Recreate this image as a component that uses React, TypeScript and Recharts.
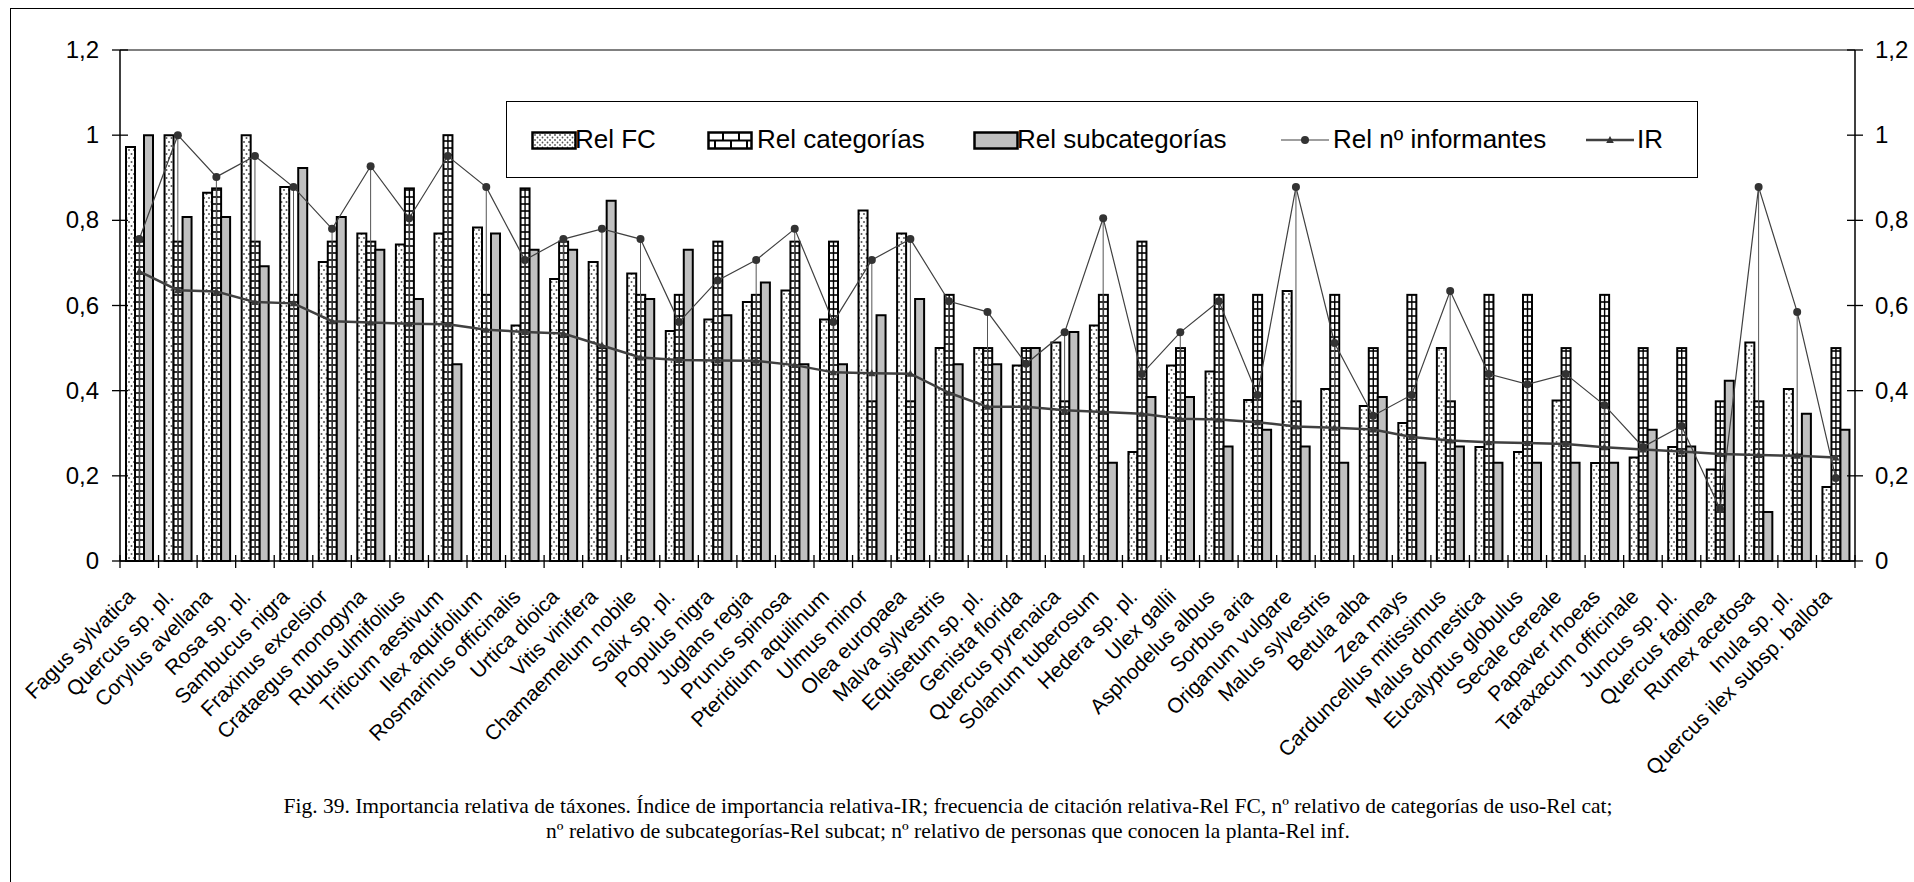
import React from 'react';
import { ComposedChart, Bar, Line, XAxis, YAxis, ErrorBar, Legend, ReferenceLine } from 'recharts';

const taxa = [
  'Fagus sylvatica', 'Quercus sp. pl.', 'Corylus avellana', 'Rosa sp. pl.', 'Sambucus nigra',
  'Fraxinus excelsior', 'Crataegus monogyna', 'Rubus ulmifolius', 'Triticum aestivum', 'Ilex aquifolium',
  'Rosmarinus officinalis', 'Urtica dioica', 'Vitis vinifera', 'Chamaemelum nobile', 'Salix sp. pl.',
  'Populus nigra', 'Juglans regia', 'Prunus spinosa', 'Pteridium aquilinum', 'Ulmus minor',
  'Olea europaea', 'Malva sylvestris', 'Equisetum sp. pl.', 'Genista florida', 'Quercus pyrenaica',
  'Solanum tuberosum', 'Hedera sp. pl.', 'Ulex gallii', 'Asphodelus albus', 'Sorbus aria',
  'Origanum vulgare', 'Malus sylvestris', 'Betula alba', 'Zea mays', 'Carduncellus mitissimus',
  'Malus domestica', 'Eucalyptus globulus', 'Secale cereale', 'Papaver rhoeas', 'Taraxacum officinale',
  'Juncus sp. pl.', 'Quercus faginea', 'Rumex acetosa', 'Inula sp. pl.', 'Quercus ilex subsp. ballota',
];

const relFC = [
  0.972, 1.0, 0.865, 1.0, 0.878, 0.702, 0.769, 0.743, 0.769, 0.783,
  0.553, 0.662, 0.702, 0.675, 0.54, 0.567, 0.608, 0.635, 0.567, 0.823,
  0.769, 0.5, 0.5, 0.459, 0.513, 0.553, 0.256, 0.459, 0.445, 0.378,
  0.634, 0.404, 0.364, 0.324, 0.5, 0.268, 0.256, 0.377, 0.23, 0.243,
  0.268, 0.215, 0.513, 0.404, 0.174,
];

const relCat = [
  0.75, 0.75, 0.875, 0.75, 0.625, 0.75, 0.75, 0.875, 1.0, 0.625,
  0.875, 0.75, 0.5, 0.625, 0.625, 0.75, 0.625, 0.75, 0.75, 0.375,
  0.375, 0.625, 0.5, 0.5, 0.375, 0.625, 0.75, 0.5, 0.625, 0.625,
  0.375, 0.625, 0.5, 0.625, 0.375, 0.625, 0.625, 0.5, 0.625, 0.5,
  0.5, 0.375, 0.375, 0.25, 0.5,
];

const relSub = [
  1.0, 0.808, 0.808, 0.692, 0.923, 0.808, 0.731, 0.615, 0.462, 0.769,
  0.731, 0.731, 0.846, 0.615, 0.731, 0.577, 0.654, 0.462, 0.462, 0.577,
  0.615, 0.462, 0.462, 0.5, 0.538, 0.231, 0.385, 0.385, 0.269, 0.308,
  0.269, 0.231, 0.385, 0.231, 0.269, 0.231, 0.231, 0.231, 0.231, 0.308,
  0.269, 0.423, 0.115, 0.346, 0.308,
];

const relInf = [
  0.756, 1.0, 0.902, 0.951, 0.878, 0.78, 0.927, 0.805, 0.951, 0.878,
  0.707, 0.756, 0.78, 0.756, 0.561, 0.659, 0.707, 0.78, 0.561, 0.707,
  0.756, 0.61, 0.585, 0.463, 0.537, 0.805, 0.439, 0.537, 0.61, 0.39,
  0.878, 0.512, 0.341, 0.39, 0.634, 0.439, 0.415, 0.439, 0.366, 0.268,
  0.317, 0.122, 0.878, 0.585, 0.195,
];

const irValues = [
  0.68, 0.636, 0.633, 0.608, 0.605, 0.563, 0.56, 0.557, 0.556, 0.543,
  0.538, 0.534, 0.506, 0.478, 0.472, 0.471, 0.47, 0.46, 0.443, 0.441,
  0.44, 0.395, 0.362, 0.362, 0.354, 0.35, 0.346, 0.334, 0.332, 0.326,
  0.316, 0.313, 0.309, 0.291, 0.283, 0.279, 0.277, 0.275, 0.267, 0.262,
  0.257, 0.251, 0.249, 0.247, 0.243,
];

const yTicks = [0, 0.2, 0.4, 0.6, 0.8, 1, 1.2];

const captionLines = [
  'Fig. 39. Importancia relativa de táxones. Índice de importancia relativa-IR; frecuencia de citación relativa-Rel FC, nº relativo de categorías de uso-Rel cat;',
  'nº relativo de subcategorías-Rel subcat; nº relativo de personas que conocen la planta-Rel inf.',
];

const data = taxa.map((name, i) => ({
  name,
  fc: relFC[i],
  cat: relCat[i],
  sub: relSub[i],
  inf: relInf[i],
  ir: irValues[i],
  drop: [relInf[i], 0],
}));

const SANS = '"Liberation Sans", Arial, sans-serif';
const SERIF = '"Liberation Serif", "Times New Roman", serif';

const fmt = (v: number) => String(v).replace('.', ',');

// columna de "Rel categorías": escalera blanca con travesaños negros
const LadderBar = (props: any) => {
  const { x, y, width, height } = props;
  if (!height || height <= 0) return null;
  const rungs = [];
  for (let yy = y + height - 7; yy > y + 1; yy -= 7) {
    rungs.push(<line key={yy} x1={x} x2={x + width} y1={yy} y2={yy} stroke="#000" strokeWidth={1.6} />);
  }
  return (
    <g>
      <rect x={x} y={y} width={width} height={height} fill="#fff" />
      {rungs}
      <line x1={x + width / 2} x2={x + width / 2} y1={y} y2={y + height} stroke="#000" strokeWidth={1.4} />
      <rect x={x} y={y} width={width} height={height} fill="none" stroke="#000" strokeWidth={2} />
    </g>
  );
};

const TriangleDot = (props: any) => {
  const { cx, cy } = props;
  if (cx == null || cy == null) return null;
  return <path d={`M${cx},${cy - 4} L${cx + 3.8},${cy + 3} L${cx - 3.8},${cy + 3} Z`} fill="#3a3a3a" />;
};

const TaxonTick = (props: any) => {
  const { x, y, payload, index } = props;
  const half = payload && payload.offset ? payload.offset : 0;
  const tx = x - 3;
  const ty = y + 37;
  return (
    <g>
      <line x1={x - half} x2={x - half} y1={y - 6} y2={y + 7} stroke="#000" strokeWidth={1.3} />
      {index === taxa.length - 1 && (
        <line x1={x + half} x2={x + half} y1={y - 6} y2={y + 7} stroke="#000" strokeWidth={1.3} />
      )}
      <text x={tx} y={ty} transform={`rotate(-45 ${tx} ${ty})`} textAnchor="end" fontSize={21} fontFamily={SANS} fill="#000">
        {payload.value}
      </text>
    </g>
  );
};

const LeftTick = (props: any) => {
  const { x, y, payload } = props;
  return (
    <g>
      <line x1={x - 8} x2={x + 8} y1={y} y2={y} stroke="#000" strokeWidth={1.3} />
      <text x={x - 21} y={y + 8} textAnchor="end" fontSize={24} fontFamily={SANS} fill="#000">{fmt(payload.value)}</text>
    </g>
  );
};

const RightTick = (props: any) => {
  const { x, y, payload } = props;
  return (
    <g>
      <line x1={x - 8} x2={x + 8} y1={y} y2={y} stroke="#000" strokeWidth={1.3} />
      <text x={x + 20} y={y + 8} textAnchor="start" fontSize={24} fontFamily={SANS} fill="#000">{fmt(payload.value)}</text>
    </g>
  );
};

const legendItems = [
  { label: 'Rel FC', kind: 'fc', left: 24, textLeft: 68 },
  { label: 'Rel categorías', kind: 'cat', left: 200, textLeft: 250 },
  { label: 'Rel subcategorías', kind: 'sub', left: 466, textLeft: 510 },
  { label: 'Rel nº informantes', kind: 'inf', left: 774, textLeft: 826 },
  { label: 'IR', kind: 'ir', left: 1079, textLeft: 1130 },
];

const Swatch = ({ kind }: { kind: string }) => {
  if (kind === 'inf' || kind === 'ir') {
    return (
      <svg width={48} height={18}>
        <line x1={0} x2={48} y1={9} y2={9} stroke="#404040" strokeWidth={kind === 'ir' ? 2.5 : 1.2} />
        {kind === 'inf'
          ? <circle cx={24} cy={9} r={4} fill="#333" />
          : <path d="M24,5 L27.8,12 L20.2,12 Z" fill="#333" />}
      </svg>
    );
  }
  return (
    <svg width={46} height={19}>
      <defs>
        <pattern id="lgDots" width={5} height={5} patternUnits="userSpaceOnUse">
          <rect width={5} height={5} fill="#fff" />
          <circle cx={1.5} cy={1.5} r={0.9} fill="#555" />
          <circle cx={4} cy={4} r={0.9} fill="#555" />
        </pattern>
      </defs>
      {kind === 'fc' && <rect x={1.5} y={1.5} width={43} height={16} fill="url(#lgDots)" stroke="#000" strokeWidth={2.5} />}
      {kind === 'sub' && <rect x={1.5} y={1.5} width={43} height={16} fill="#c0c0c0" stroke="#000" strokeWidth={2.5} />}
      {kind === 'cat' && (
        <g stroke="#000" strokeWidth={2}>
          <rect x={1.5} y={1.5} width={43} height={16} fill="#fff" strokeWidth={2.5} />
          <line x1={1.5} x2={44.5} y1={9.5} y2={9.5} />
          <line x1={16} x2={16} y1={1.5} y2={9.5} />
          <line x1={32} x2={32} y1={1.5} y2={9.5} />
          <line x1={8} x2={8} y1={9.5} y2={17.5} />
          <line x1={24} x2={24} y1={9.5} y2={17.5} />
          <line x1={40} x2={40} y1={9.5} y2={17.5} />
        </g>
      )}
    </svg>
  );
};

const LegendBox = () => (
  <div style={{ position: 'relative', width: 1192, height: 77, border: '1.5px solid #000', background: '#fff', boxSizing: 'border-box' }}>
    {legendItems.map((it) => (
      <React.Fragment key={it.label}>
        <div style={{ position: 'absolute', left: it.left, top: 29 }}>
          <Swatch kind={it.kind} />
        </div>
        <div style={{ position: 'absolute', left: it.textLeft, top: 22, fontFamily: SANS, fontSize: 26, lineHeight: '30px', color: '#000', whiteSpace: 'nowrap' }}>
          {it.label}
        </div>
      </React.Fragment>
    ))}
  </div>
);

export default function App() {
  return (
    <div style={{ position: 'absolute', left: 0, top: 0, width: 1914, height: 882, overflow: 'hidden', background: '#fff' }}>
      <div style={{ position: 'absolute', left: 10, top: 8, width: 1920, height: 900, border: '1.5px solid #000' }} />
      <div style={{ position: 'absolute', left: 0, top: 0 }}>
        <ComposedChart
          width={1914}
          height={882}
          data={data}
          margin={{ top: 50, right: 0, bottom: 121, left: 60 }}
          barGap={0}
        >
          <defs>
            <pattern id="fcDots" width={5} height={8} patternUnits="userSpaceOnUse">
              <rect width={5} height={8} fill="#fff" />
              <circle cx={1.5} cy={2} r={1} fill="#555" />
              <circle cx={4} cy={6} r={1} fill="#555" />
            </pattern>
          </defs>
          <XAxis
            dataKey="name"
            interval={0}
            height={200}
            tickSize={0}
            tickMargin={0}
            tickLine={false}
            axisLine={{ stroke: '#000', strokeWidth: 1.5 }}
            tick={<TaxonTick />}
          />
          <YAxis
            yAxisId="left"
            domain={[0, 1.2]}
            ticks={yTicks}
            width={60}
            tickSize={0}
            tickMargin={0}
            tickLine={false}
            axisLine={{ stroke: '#000', strokeWidth: 1.5 }}
            tick={<LeftTick />}
          />
          <YAxis
            yAxisId="right"
            orientation="right"
            domain={[0, 1.2]}
            ticks={yTicks}
            width={59}
            tickSize={0}
            tickMargin={0}
            tickLine={false}
            axisLine={{ stroke: '#000', strokeWidth: 1.5 }}
            tick={<RightTick />}
          />
          <ReferenceLine yAxisId="left" y={1.2} stroke="#808080" strokeWidth={2} />
          <Legend
            layout="horizontal"
            verticalAlign="middle"
            align="center"
            wrapperStyle={{ left: 506, top: 101, width: 1192, height: 77 }}
            content={() => <LegendBox />}
          />
          <Bar yAxisId="left" dataKey="fc" name="Rel FC" barSize={9} fill="url(#fcDots)" stroke="#000" strokeWidth={2} isAnimationActive={false} />
          <Bar yAxisId="left" dataKey="cat" name="Rel categorías" barSize={9} shape={<LadderBar />} isAnimationActive={false} />
          <Bar yAxisId="left" dataKey="sub" name="Rel subcategorías" barSize={9} fill="#c0c0c0" stroke="#000" strokeWidth={2} isAnimationActive={false} />
          <Line
            yAxisId="right"
            dataKey="ir"
            name="IR"
            stroke="#404040"
            strokeWidth={2.5}
            dot={<TriangleDot />}
            activeDot={false}
            isAnimationActive={false}
          />
          <Line
            yAxisId="right"
            dataKey="inf"
            name="Rel nº informantes"
            stroke="#404040"
            strokeWidth={1.2}
            dot={{ r: 4, fill: '#333', stroke: 'none' }}
            activeDot={false}
            isAnimationActive={false}
          >
            <ErrorBar dataKey="drop" direction="y" width={0} stroke="#555" strokeWidth={1} />
          </Line>
        </ComposedChart>
      </div>
      {captionLines.map((line, i) => (
        <div
          key={i}
          style={{
            position: 'absolute',
            left: 0,
            width: 1896,
            top: 794 + i * 25,
            textAlign: 'center',
            fontFamily: SERIF,
            fontSize: 21.5,
            lineHeight: '25px',
            color: '#000',
            whiteSpace: 'nowrap',
          }}
        >
          {line}
        </div>
      ))}
    </div>
  );
}
